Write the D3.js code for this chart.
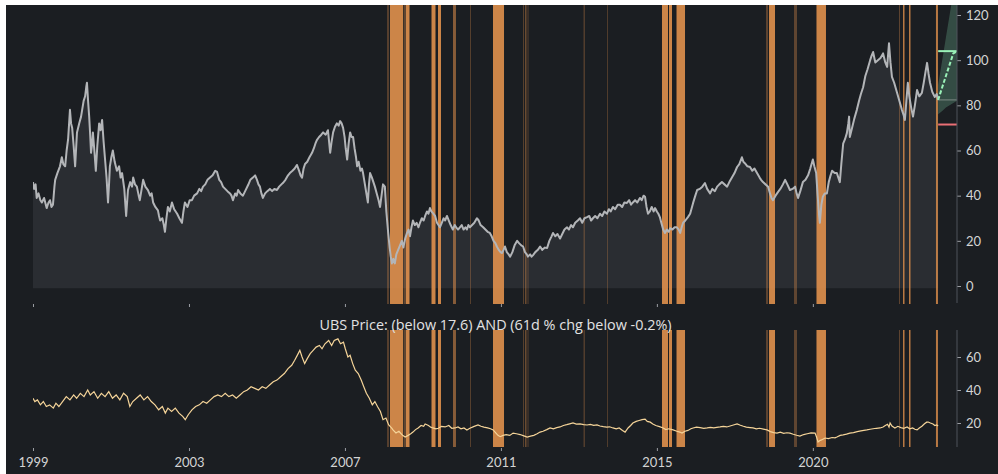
<!DOCTYPE html>
<html>
<head>
<meta charset="utf-8">
<script src="https://cdn.jsdelivr.net/npm/d3@7"></script>
<style>
  html, body { margin: 0; padding: 0; background: #fff; }
  svg { display: block; font-family: Lato, "Open Sans", sans-serif; }
</style>
</head>
<body>
<svg id="chart" width="998" height="474"></svg>
<script>
// top panel: price (decimal year, value)
const price = [
  [1999.00, 46], [1999.03, 43], [1999.07, 45], [1999.10, 39], [1999.15, 41], [1999.20, 38], [1999.24, 37],
  [1999.30, 39], [1999.37, 34.5], [1999.42, 37], [1999.46, 38], [1999.50, 35], [1999.54, 36], [1999.58, 44],
  [1999.60, 47], [1999.66, 50], [1999.73, 53], [1999.78, 57], [1999.82, 54], [1999.87, 53], [1999.91, 60],
  [1999.95, 65], [2000.00, 78], [2000.03, 72], [2000.06, 70], [2000.10, 62], [2000.14, 53], [2000.17, 62],
  [2000.19, 68], [2000.25, 72], [2000.30, 75], [2000.33, 78], [2000.37, 82], [2000.41, 84], [2000.44, 88],
  [2000.46, 90], [2000.49, 82], [2000.52, 75], [2000.55, 66], [2000.57, 59], [2000.60, 63], [2000.62, 68],
  [2000.66, 60], [2000.70, 51], [2000.74, 62], [2000.79, 72], [2000.83, 69], [2000.87, 73.5], [2000.91, 64],
  [2000.95, 56], [2000.99, 48], [2001.03, 37], [2001.06, 46], [2001.08, 53], [2001.12, 57], [2001.16, 60],
  [2001.21, 55], [2001.27, 51], [2001.33, 53], [2001.37, 48], [2001.41, 50], [2001.47, 43], [2001.52, 31],
  [2001.55, 38], [2001.57, 42.5], [2001.63, 46], [2001.68, 44], [2001.71, 48], [2001.76, 45], [2001.81, 44],
  [2001.86, 40], [2001.89, 38], [2001.94, 43], [2001.98, 47], [2002.04, 44], [2002.11, 42.5], [2002.17, 40],
  [2002.21, 41], [2002.25, 37], [2002.31, 35], [2002.38, 33.5], [2002.41, 31], [2002.44, 29], [2002.50, 30],
  [2002.54, 27], [2002.57, 24], [2002.61, 30], [2002.65, 35], [2002.70, 33], [2002.76, 37], [2002.82, 34],
  [2002.90, 32], [2002.96, 30], [2003.03, 28], [2003.07, 33], [2003.11, 37], [2003.18, 35], [2003.24, 38],
  [2003.30, 38], [2003.36, 40], [2003.44, 41], [2003.50, 43], [2003.55, 42], [2003.60, 44], [2003.66, 45],
  [2003.72, 47], [2003.79, 48], [2003.86, 49], [2003.93, 51], [2003.98, 50.5], [2004.04, 47], [2004.09, 46],
  [2004.14, 44], [2004.20, 43], [2004.26, 42], [2004.33, 41], [2004.37, 40], [2004.41, 38], [2004.47, 41],
  [2004.51, 40], [2004.55, 42.5], [2004.61, 41], [2004.68, 40], [2004.74, 42], [2004.82, 44.7], [2004.88, 47],
  [2004.95, 48], [2005.01, 49], [2005.06, 47], [2005.10, 45], [2005.14, 44], [2005.18, 41], [2005.22, 39],
  [2005.28, 41], [2005.34, 42], [2005.41, 43], [2005.47, 42], [2005.53, 43], [2005.60, 42.5], [2005.66, 44],
  [2005.72, 45], [2005.76, 45.6], [2005.83, 47], [2005.90, 49], [2005.95, 50], [2006.02, 51], [2006.08, 52],
  [2006.14, 53.6], [2006.20, 51], [2006.24, 49], [2006.28, 48], [2006.32, 52], [2006.36, 54], [2006.42, 55],
  [2006.48, 57], [2006.55, 59], [2006.60, 61], [2006.64, 63], [2006.68, 64.6], [2006.74, 66], [2006.80, 67],
  [2006.85, 68], [2006.92, 67], [2006.98, 69], [2007.01, 64], [2007.04, 59], [2007.08, 64], [2007.12, 68],
  [2007.17, 70.5], [2007.22, 72], [2007.27, 71], [2007.31, 73], [2007.35, 72], [2007.39, 70], [2007.43, 66],
  [2007.46, 61], [2007.50, 56], [2007.54, 63], [2007.58, 68], [2007.62, 66], [2007.66, 66], [2007.70, 61],
  [2007.74, 57], [2007.77, 53], [2007.81, 55], [2007.86, 51], [2007.90, 52], [2007.93, 50], [2007.98, 45],
  [2008.02, 41], [2008.06, 37], [2008.09, 45], [2008.12, 50], [2008.17, 48], [2008.21, 46], [2008.25, 44],
  [2008.30, 41], [2008.35, 38], [2008.39, 35], [2008.43, 40], [2008.47, 45], [2008.52, 44], [2008.56, 33],
  [2008.61, 23.5], [2008.65, 17], [2008.68, 13], [2008.71, 10], [2008.75, 12], [2008.79, 10], [2008.83, 14],
  [2008.88, 16], [2008.93, 18], [2008.98, 20], [2009.02, 17], [2009.07, 21], [2009.12, 23.5], [2009.16, 25],
  [2009.20, 22], [2009.24, 26], [2009.28, 29], [2009.33, 27], [2009.38, 28], [2009.43, 26], [2009.47, 28],
  [2009.52, 30], [2009.57, 29], [2009.61, 31], [2009.66, 33], [2009.70, 32], [2009.74, 34.5], [2009.78, 33],
  [2009.83, 32], [2009.88, 31], [2009.93, 28], [2009.97, 27], [2010.01, 26], [2010.06, 28], [2010.11, 30],
  [2010.15, 29], [2010.20, 31], [2010.25, 29], [2010.30, 27], [2010.36, 25], [2010.41, 27], [2010.45, 26],
  [2010.50, 25], [2010.55, 26], [2010.60, 27], [2010.65, 25], [2010.70, 26], [2010.74, 25], [2010.78, 27],
  [2010.82, 26], [2010.88, 27], [2010.94, 28], [2011.01, 30], [2011.06, 29], [2011.11, 27], [2011.18, 26],
  [2011.24, 25], [2011.30, 24], [2011.36, 23.5], [2011.41, 22], [2011.46, 20], [2011.51, 19], [2011.55, 17.5],
  [2011.60, 16], [2011.65, 15], [2011.69, 14.6], [2011.73, 16], [2011.77, 17.5], [2011.82, 15], [2011.87, 14],
  [2011.91, 13], [2011.97, 15], [2012.03, 18], [2012.10, 20], [2012.15, 19], [2012.21, 18], [2012.26, 17.5],
  [2012.31, 15], [2012.36, 14], [2012.39, 13], [2012.45, 14], [2012.49, 13], [2012.53, 13.7], [2012.59, 15],
  [2012.66, 16], [2012.72, 17.5], [2012.78, 16], [2012.85, 17], [2012.91, 16.8], [2012.97, 20], [2013.03, 22],
  [2013.07, 23.5], [2013.13, 22], [2013.19, 23], [2013.26, 21], [2013.32, 23], [2013.38, 25], [2013.45, 26],
  [2013.50, 25], [2013.56, 27], [2013.61, 26], [2013.67, 28], [2013.74, 29], [2013.80, 30], [2013.86, 28],
  [2013.92, 30], [2013.99, 30.5], [2014.05, 31], [2014.10, 29], [2014.15, 30], [2014.21, 31], [2014.27, 30],
  [2014.34, 32], [2014.40, 31], [2014.46, 33], [2014.53, 32], [2014.58, 34], [2014.63, 33], [2014.69, 35],
  [2014.75, 34], [2014.82, 36], [2014.88, 36], [2014.94, 35], [2015.00, 37], [2015.07, 36.8], [2015.13, 38],
  [2015.18, 36], [2015.23, 37], [2015.29, 38], [2015.35, 37], [2015.42, 39], [2015.47, 38], [2015.52, 40],
  [2015.56, 39.5], [2015.60, 35], [2015.64, 32], [2015.69, 33], [2015.74, 35], [2015.79, 33], [2015.83, 34.5],
  [2015.88, 33], [2015.92, 32], [2015.96, 30.5], [2016.00, 28], [2016.05, 25], [2016.10, 23.5], [2016.15, 25],
  [2016.20, 24], [2016.24, 25.6], [2016.30, 25], [2016.36, 26], [2016.42, 26], [2016.47, 25], [2016.51, 23.5],
  [2016.55, 26], [2016.59, 28], [2016.65, 29], [2016.72, 30.5], [2016.78, 32], [2016.83, 35], [2016.86, 36.8],
  [2016.92, 40], [2016.97, 42.5], [2017.04, 43], [2017.11, 44], [2017.18, 45.6], [2017.24, 43], [2017.32, 41],
  [2017.38, 43], [2017.45, 42], [2017.51, 44], [2017.57, 45], [2017.64, 46], [2017.71, 45], [2017.78, 44],
  [2017.84, 46], [2017.91, 48], [2017.98, 50], [2018.05, 52.7], [2018.11, 54], [2018.18, 57], [2018.22, 55],
  [2018.26, 54.4], [2018.33, 53], [2018.40, 52.7], [2018.46, 51], [2018.52, 52], [2018.59, 50], [2018.66, 48],
  [2018.70, 47], [2018.75, 46], [2018.82, 45], [2018.89, 44], [2018.94, 41], [2018.98, 39], [2019.02, 38],
  [2019.09, 40], [2019.16, 41.7], [2019.22, 43], [2019.29, 45], [2019.35, 47], [2019.41, 45], [2019.48, 42.5],
  [2019.55, 43], [2019.62, 44], [2019.66, 41], [2019.70, 39], [2019.76, 42], [2019.83, 46], [2019.90, 47],
  [2019.97, 49], [2020.03, 52], [2020.10, 56], [2020.14, 53], [2020.19, 50], [2020.23, 40], [2020.27, 31],
  [2020.29, 28], [2020.33, 36], [2020.37, 39.5], [2020.42, 41], [2020.48, 41], [2020.53, 46], [2020.58, 49],
  [2020.62, 51], [2020.69, 50], [2020.75, 50], [2020.79, 48], [2020.83, 46], [2020.87, 54], [2020.92, 63],
  [2020.97, 65], [2021.02, 67.7], [2021.06, 72], [2021.08, 75], [2021.10, 66], [2021.16, 70], [2021.22, 74],
  [2021.29, 78], [2021.35, 82], [2021.40, 85], [2021.46, 88], [2021.52, 93], [2021.58, 96], [2021.65, 100],
  [2021.69, 102], [2021.73, 103.6], [2021.79, 99], [2021.86, 100], [2021.93, 101], [2022.00, 103], [2022.06, 99],
  [2022.11, 97], [2022.16, 107.5], [2022.20, 99], [2022.24, 92.6], [2022.30, 90], [2022.38, 85.5], [2022.44, 82],
  [2022.51, 78], [2022.55, 76], [2022.59, 73.5], [2022.63, 82], [2022.67, 90], [2022.71, 84], [2022.76, 79],
  [2022.81, 75], [2022.86, 80], [2022.92, 86.8], [2022.98, 84], [2023.05, 85.5], [2023.10, 90], [2023.15, 95],
  [2023.19, 98.8], [2023.23, 94], [2023.27, 90], [2023.33, 86], [2023.40, 83.7], [2023.45, 85], [2023.49, 82.4]
];

// bottom panel: second price series (decimal year, value)
const price2 = [
  [1999.00, 35], [1999.05, 33], [1999.12, 34], [1999.20, 31], [1999.28, 33], [1999.36, 30], [1999.45, 31],
  [1999.55, 29], [1999.62, 32], [1999.70, 30], [1999.80, 33], [1999.90, 36], [2000.00, 34], [2000.10, 37],
  [2000.18, 35], [2000.28, 38], [2000.38, 36], [2000.48, 40], [2000.55, 37], [2000.65, 39], [2000.75, 35],
  [2000.85, 38], [2000.95, 36], [2001.05, 39], [2001.15, 35], [2001.25, 37], [2001.35, 34], [2001.45, 38],
  [2001.55, 36], [2001.62, 30], [2001.70, 33], [2001.80, 35], [2001.90, 37], [2002.00, 34], [2002.10, 36],
  [2002.20, 33], [2002.30, 31], [2002.40, 28], [2002.50, 30], [2002.58, 26], [2002.65, 29], [2002.75, 27],
  [2002.85, 29], [2002.95, 26], [2003.05, 24], [2003.12, 22], [2003.20, 25], [2003.30, 28], [2003.40, 30],
  [2003.50, 31], [2003.60, 33], [2003.70, 32], [2003.80, 34], [2003.90, 36], [2004.00, 37], [2004.10, 36],
  [2004.20, 38], [2004.30, 36], [2004.40, 37], [2004.50, 35], [2004.60, 37], [2004.70, 39], [2004.80, 40],
  [2004.90, 42], [2005.00, 41], [2005.10, 40], [2005.20, 42], [2005.30, 41], [2005.40, 43], [2005.50, 45],
  [2005.60, 46], [2005.70, 48], [2005.80, 50], [2005.90, 53], [2006.00, 55], [2006.08, 58], [2006.15, 61],
  [2006.22, 64], [2006.28, 60], [2006.35, 56], [2006.42, 59], [2006.50, 62], [2006.58, 64], [2006.66, 66],
  [2006.75, 67], [2006.82, 65], [2006.90, 68], [2007.00, 70], [2007.08, 67], [2007.15, 70], [2007.25, 71],
  [2007.32, 68], [2007.40, 69], [2007.45, 65], [2007.52, 60], [2007.58, 61], [2007.65, 56], [2007.72, 52],
  [2007.80, 50], [2007.88, 46], [2007.95, 42], [2008.02, 38], [2008.10, 35], [2008.18, 31], [2008.25, 33],
  [2008.32, 30], [2008.40, 27], [2008.47, 22], [2008.55, 23], [2008.62, 19], [2008.70, 17], [2008.74, 15.8],
  [2008.82, 14], [2008.90, 15], [2009.00, 12.5], [2009.07, 11.5], [2009.15, 12.5], [2009.22, 13.5], [2009.28, 14.5],
  [2009.35, 16], [2009.42, 17], [2009.50, 18.5], [2009.57, 18], [2009.61, 19.4], [2009.70, 18.5], [2009.76, 17.5],
  [2009.82, 17], [2009.90, 16.5], [2009.97, 16.8], [2010.05, 18], [2010.15, 17.6], [2010.25, 18.5], [2010.33, 16.8],
  [2010.42, 17], [2010.50, 17.6], [2010.58, 16.5], [2010.66, 17], [2010.74, 15.8], [2010.82, 16.8], [2010.92, 17.8],
  [2011.04, 18.8], [2011.12, 18], [2011.20, 17.5], [2011.30, 17], [2011.38, 16.5], [2011.45, 15.8], [2011.52, 14],
  [2011.58, 12.5], [2011.64, 11.7], [2011.72, 12.5], [2011.80, 13], [2011.90, 12.5], [2011.99, 13.9], [2012.08, 13.5],
  [2012.18, 13], [2012.28, 12.2], [2012.37, 11.5], [2012.46, 12], [2012.55, 12.5], [2012.64, 13.5], [2012.72, 14.5],
  [2012.80, 15], [2012.90, 16], [2012.99, 17], [2013.08, 16.5], [2013.17, 17.2], [2013.26, 17.6], [2013.35, 18.5],
  [2013.44, 19], [2013.52, 19.5], [2013.61, 20], [2013.70, 19.3], [2013.80, 19.5], [2013.90, 19], [2013.99, 18.8],
  [2014.08, 19.2], [2014.17, 18.6], [2014.26, 18.8], [2014.34, 18.2], [2014.43, 17.8], [2014.52, 17.5], [2014.60, 17.7],
  [2014.69, 17], [2014.78, 16.5], [2014.86, 17], [2014.95, 15.5], [2015.02, 14.5], [2015.10, 17], [2015.17, 18.5],
  [2015.23, 20], [2015.32, 21], [2015.40, 21.5], [2015.48, 22], [2015.56, 22.4], [2015.62, 21], [2015.70, 20.5],
  [2015.77, 19.4], [2015.85, 18.5], [2015.95, 17.8], [2016.05, 17], [2016.12, 16], [2016.20, 16.5], [2016.32, 15.8],
  [2016.42, 15], [2016.50, 14.5], [2016.56, 13.9], [2016.64, 15], [2016.72, 15.5], [2016.80, 16.5], [2016.86, 17],
  [2016.95, 17.5], [2017.05, 17.2], [2017.15, 16.8], [2017.24, 17], [2017.33, 17.4], [2017.42, 17], [2017.50, 17.3],
  [2017.59, 17.6], [2017.68, 18], [2017.77, 17.6], [2017.86, 18.2], [2017.95, 18.8], [2018.05, 19.4], [2018.14, 18.6],
  [2018.22, 18], [2018.30, 17.5], [2018.40, 17.2], [2018.48, 17], [2018.57, 16.5], [2018.66, 16.8], [2018.76, 16.3],
  [2018.86, 15.8], [2018.95, 14.8], [2019.04, 14.2], [2019.13, 13.9], [2019.22, 14.4], [2019.31, 13.7], [2019.40, 14.1],
  [2019.48, 13.9], [2019.57, 13.2], [2019.66, 12.6], [2019.75, 12.1], [2019.85, 13], [2019.95, 13.5], [2020.05, 14],
  [2020.16, 13.9], [2020.20, 11.5], [2020.24, 8.5], [2020.30, 9.5], [2020.36, 10], [2020.43, 10.9], [2020.52, 10.5],
  [2020.62, 11.2], [2020.70, 11], [2020.75, 11.5], [2020.84, 12.5], [2020.92, 12.8], [2021.01, 13.3], [2021.10, 13.9],
  [2021.20, 14.2], [2021.30, 14.8], [2021.40, 15.2], [2021.48, 15.5], [2021.56, 15.8], [2021.65, 16.2], [2021.73, 16.5],
  [2021.82, 16.8], [2021.92, 17], [2022.00, 17.6], [2022.06, 18.5], [2022.12, 19.2], [2022.16, 17.5], [2022.19, 20],
  [2022.24, 18.2], [2022.32, 17], [2022.40, 18], [2022.48, 17.2], [2022.56, 16.8], [2022.65, 17.6], [2022.72, 16.5],
  [2022.80, 17], [2022.86, 16.2], [2022.92, 15.8], [2022.98, 17], [2023.05, 18], [2023.12, 19.5], [2023.18, 20.5],
  [2023.22, 20.6], [2023.28, 20], [2023.35, 19.4], [2023.40, 18.5], [2023.45, 18.8], [2023.49, 18.2]
];

// signal periods: start year, end year, strength (1 = solid)
const signalStart = [2008.578, 2008.659, 2009.025, 2009.092, 2009.782, 2009.958, 2010.364, 2010.824, 2011.446,
  2012.258, 2012.312, 2012.380, 2013.894, 2014.530, 2016.018, 2016.208, 2016.411, 2018.833, 2018.914, 2019.590,
  2020.198, 2022.430, 2022.539, 2022.701, 2023.431];
const signalEnd = [2008.632, 2009.011, 2009.092, 2009.187, 2009.890, 2010.039, 2010.444, 2010.851, 2011.744,
  2012.285, 2012.353, 2012.407, 2013.935, 2014.557, 2016.181, 2016.289, 2016.641, 2018.887, 2019.076, 2019.671,
  2020.455, 2022.457, 2022.580, 2022.742, 2023.485];
const signalStrength = [0.3, 0.9, 0.35, 0.9, 0.9, 0.9, 0.55, 0.3, 0.9,
  0.3, 0.4, 0.3, 0.28, 0.28, 0.9, 0.9, 0.9, 0.35, 0.9, 0.35,
  0.9, 0.35, 0.8, 0.8, 0.8];

// forecast after last price
const fcYears = [2023.49, 2023.60, 2023.70, 2023.80, 2023.90, 2024.00];
const fcMid = [82.4, 88, 93, 98, 103, 104];
const fcLow = [76, 77.5, 79, 80, 81, 82];
const fcHigh = [89, 100, 110, 120, 130, 138];
const targetLevel = 104;
const stopLevel = 71.5;

const xTickYears = [1999.0, 2003.22, 2007.44, 2011.66, 2015.88, 2020.10];
const xTickLabels = ["1999", "2003", "2007", "2011", "2015", "2020"];
const yTopTicks = [0, 20, 40, 60, 80, 100, 120];
const yBotTicks = [20, 40, 60];
const title = "UBS Price: (below 17.6) AND (61d % chg below -0.2%)";

const width = 998;
const height = 474;
const topPanel = { top: 5, bottom: 304 };
const botPanel = { top: 330, bottom: 447 };
const plotLeft = 33;
const axisX = 957;

const svg = d3.select("svg#chart");

svg.append("rect").attr("x", 6).attr("y", 5)
  .attr("width", width - 6).attr("height", height - 5).attr("fill", "#1b1e22");

const x = d3.scaleLinear().domain([1999, 2024]).range([plotLeft, axisX]);
const yTop = d3.scaleLinear().domain([0, 120]).range([286, 15]);
const yBot = d3.scaleLinear().domain([0, 70]).range([456, 340.5]);

const defs = svg.append("defs");
defs.append("clipPath").attr("id", "clipTop").append("rect")
  .attr("x", plotLeft).attr("y", topPanel.top)
  .attr("width", axisX - plotLeft).attr("height", topPanel.bottom - topPanel.top);
defs.append("clipPath").attr("id", "clipBot").append("rect")
  .attr("x", plotLeft).attr("y", botPanel.top)
  .attr("width", axisX - plotLeft).attr("height", botPanel.bottom - botPanel.top);

const signals = signalStart.map((s, i) => ({ s, e: signalEnd[i], k: signalStrength[i] }));

// ---- top panel
const topG = svg.append("g").attr("clip-path", "url(#clipTop)");

topG.append("path")
  .datum(price)
  .attr("fill", "#2a2d32")
  .attr("d", d3.area().x((d) => x(d[0])).y0(yTop(-1)).y1((d) => yTop(d[1])));

topG.selectAll("rect.signal")
  .data(signals)
  .join("rect")
  .attr("class", "signal")
  .attr("x", (d) => x(d.s))
  .attr("width", (d) => Math.max(1, x(d.e) - x(d.s)))
  .attr("y", topPanel.top)
  .attr("height", topPanel.bottom - topPanel.top)
  .attr("fill", "#e0904c")
  .attr("opacity", (d) => d.k);

// forecast cone
const fc = fcYears.map((t, i) => ({ t, mid: fcMid[i], lo: fcLow[i], hi: fcHigh[i] }));
topG.append("path")
  .datum(fc)
  .attr("fill", "#6fb896")
  .attr("opacity", 0.3)
  .attr("d", d3.area().x((d) => x(d.t)).y0((d) => yTop(d.lo)).y1((d) => yTop(d.hi)));

topG.append("line")
  .attr("x1", x(fcYears[0])).attr("x2", axisX)
  .attr("y1", yTop(fcMid[0])).attr("y2", yTop(fcMid[0]))
  .attr("stroke", "#7d8a86").attr("stroke-width", 1);

topG.append("path")
  .datum(price)
  .attr("fill", "none")
  .attr("stroke", "#b3b5b8")
  .attr("stroke-width", 2)
  .attr("stroke-linejoin", "round")
  .attr("d", d3.line().x((d) => x(d[0])).y((d) => yTop(d[1])));

topG.append("path")
  .datum(fc)
  .attr("fill", "none")
  .attr("stroke", "#9af2b8")
  .attr("stroke-width", 2)
  .attr("stroke-dasharray", "4,2")
  .attr("d", d3.line().x((d) => x(d.t)).y((d) => yTop(d.mid)));

topG.append("line")
  .attr("x1", x(fcYears[0])).attr("x2", axisX)
  .attr("y1", yTop(targetLevel)).attr("y2", yTop(targetLevel))
  .attr("stroke", "#9af2b8").attr("stroke-width", 2);

topG.append("line")
  .attr("x1", x(fcYears[0])).attr("x2", axisX)
  .attr("y1", yTop(stopLevel)).attr("y2", yTop(stopLevel))
  .attr("stroke", "#ea6f75").attr("stroke-width", 2);

// ---- bottom panel
const botG = svg.append("g").attr("clip-path", "url(#clipBot)");

botG.selectAll("rect.signal")
  .data(signals)
  .join("rect")
  .attr("class", "signal")
  .attr("x", (d) => x(d.s))
  .attr("width", (d) => Math.max(1, x(d.e) - x(d.s)))
  .attr("y", botPanel.top)
  .attr("height", botPanel.bottom - botPanel.top)
  .attr("fill", "#e0904c")
  .attr("opacity", (d) => d.k);

botG.append("path")
  .datum(price2)
  .attr("fill", "none")
  .attr("stroke", "#f5d499")
  .attr("stroke-width", 1.2)
  .attr("d", d3.line().x((d) => x(d[0])).y((d) => yBot(d[1])));

// ---- axes
const textColor = "#d4d4d4";
function styleAxis(g) {
  g.select(".domain").remove();
  g.selectAll("line").attr("stroke", "#9a9da2");
  g.selectAll("text").attr("fill", textColor).attr("font-size", 13)
    .attr("font-family", "Lato, 'Open Sans', sans-serif");
}

svg.append("g")
  .attr("transform", `translate(${axisX},0)`)
  .call(d3.axisRight(yTop).tickValues(yTopTicks).tickSize(4).tickPadding(5))
  .call(styleAxis);

svg.append("g")
  .attr("transform", `translate(${axisX},0)`)
  .call(d3.axisRight(yBot).tickValues(yBotTicks).tickSize(4).tickPadding(5))
  .call(styleAxis);

svg.append("line")
  .attr("x1", axisX).attr("x2", axisX)
  .attr("y1", topPanel.top).attr("y2", topPanel.bottom - 1)
  .attr("stroke", "#4f535a");
svg.append("line")
  .attr("x1", axisX).attr("x2", axisX)
  .attr("y1", botPanel.top).attr("y2", botPanel.bottom)
  .attr("stroke", "#4f535a");

// x ticks: top panel has marks only
svg.append("g")
  .attr("transform", `translate(0,${topPanel.bottom})`)
  .call(d3.axisBottom(x).tickValues(xTickYears).tickSize(3).tickFormat(""))
  .call(styleAxis);

svg.append("g")
  .attr("transform", `translate(0,${botPanel.bottom + 1})`)
  .call(d3.axisBottom(x).tickValues(xTickYears).tickSize(3).tickPadding(7)
    .tickFormat((d, i) => xTickLabels[i]))
  .call(styleAxis);

svg.append("text")
  .attr("x", 495.5)
  .attr("y", 325)
  .attr("dy", "0.35em")
  .attr("text-anchor", "middle")
  .attr("fill", "#e2e2e2")
  .attr("font-family", "'Open Sans', Lato, sans-serif")
  .attr("font-size", 14.4)
  .text(title);
</script>
</body>
</html>
